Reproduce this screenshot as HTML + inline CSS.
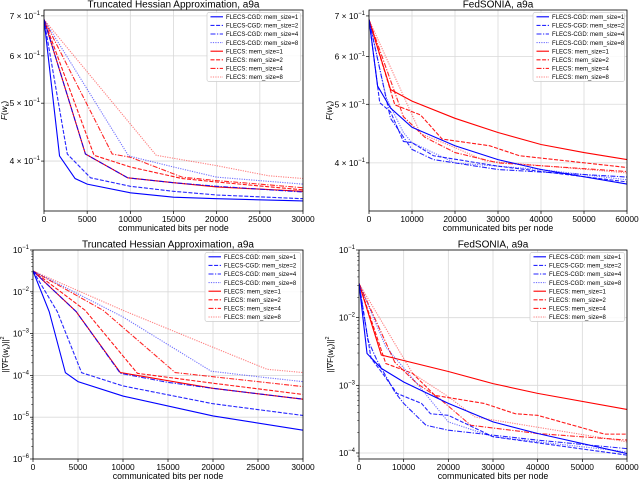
<!DOCTYPE html>
<html><head><meta charset="utf-8"><style>
body{margin:0;background:#fff}
svg{display:block;font-family:"Liberation Sans","DejaVu Sans",sans-serif}
</style></head><body>
<svg id="c" width="640" height="480" viewBox="0 0 640 480"></svg>
<script>
const legendLabels=["FLECS-CGD: mem_size=1","FLECS-CGD: mem_size=2","FLECS-CGD: mem_size=4","FLECS-CGD: mem_size=8","FLECS: mem_size=1","FLECS: mem_size=2","FLECS: mem_size=4","FLECS: mem_size=8"];
// Panel 1: Truncated Hessian, F(w_k)
const p1X=[[0,1800,3600,5000,10000,15000,20000,30000],[0,2700,5400,10000,15000,20000,30000],[0,4800,9700,15000,20000,30000],[0,9800,15000,20000,30000],[0,4800,9700,15000,20000,30000],[0,5800,10000,16000,20000,30000],[0,7900,10000,16000,20000,30000],[0,13000,20000,26000,30000]];
const p1Y=[[0.69,0.408,0.374,0.366,0.354,0.348,0.346,0.343],[0.69,0.411,0.375,0.363,0.356,0.351,0.346],[0.69,0.411,0.375,0.368,0.363,0.355],[0.69,0.408,0.391,0.376,0.366],[0.69,0.411,0.375,0.368,0.362,0.356],[0.69,0.409,0.391,0.374,0.369,0.358],[0.69,0.411,0.406,0.376,0.371,0.361],[0.69,0.409,0.393,0.378,0.374]];
// Panel 2: FedSONIA, F(w_k)
const p2X=[[0,2000,5000,10000,20000,30000,40000,60000],[0,2500,5000,8000,10000,15000,30000,60000],[0,5000,10000,15000,30000,60000],[0,4000,8000,10000,20000,40000,60000],[0,5000,10000,20000,30000,40000,50000,60000],[0,6000,12000,17000,28000,35000,60000],[0,8000,13000,20000,30000,60000],[0,12000,20000,27000,60000]];
const p2Y=[[0.69,0.536,0.493,0.458,0.427,0.405,0.39,0.369],[0.69,0.503,0.486,0.434,0.432,0.411,0.395,0.372],[0.69,0.474,0.421,0.405,0.39,0.379],[0.69,0.513,0.449,0.432,0.40,0.39,0.375],[0.69,0.529,0.506,0.474,0.449,0.429,0.416,0.405],[0.69,0.499,0.48,0.438,0.427,0.411,0.393],[0.69,0.477,0.441,0.416,0.40,0.387],[0.69,0.447,0.424,0.403,0.385]];
// Panel 3: Truncated Hessian, gradient norm
const p3X=[[0,1800,3600,5000,10000,20000,30000],[0,2700,5400,10000,20000,30000],[0,4800,9700,15000,20000,30000],[0,10000,19800,25000,30000],[0,4800,9700,20000,30000],[0,5800,11600,20000,30000],[0,7800,15800,20000,30000],[0,10000,19800,26000,30000]];
const p3Y=[[0.0315,3.35e-3,1.16e-4,7.1e-5,3.2e-5,1.07e-5,4.9e-6],[0.0315,3.35e-3,1.16e-4,5.6e-5,2.1e-5,1.1e-5],[0.0315,3.35e-3,1.12e-4,6.8e-5,4.9e-5,2.7e-5],[0.0315,2.5e-3,1.26e-4,9.3e-5,7.1e-5],[0.0315,3.35e-3,1.17e-4,4.9e-5,2.7e-5],[0.0315,3.6e-3,1.12e-4,6.5e-5,3.5e-5],[0.0315,3.6e-3,1.17e-4,9.3e-5,5.4e-5],[0.0315,3.6e-3,4.9e-4,1.4e-4,1.17e-4]];
// Panel 4: FedSONIA, gradient norm
const p4X=[[0,1800,5000,10000,20000,30000,40000,60000],[0,2700,5000,8500,14000,16000,20000,30000,60000],[0,2000,4000,8000,10000,15000,20000,40000,60000],[0,6000,13000,20000,30000,60000],[0,5000,20000,30000,40000,60000],[0,6000,12000,17000,28000,35000,40000,55000,60000],[0,8000,13000,18000,25000,40000,60000],[0,12000,20000,26000,60000]];
const p4Y=[[0.032,2.95e-3,1.78e-3,1.12e-3,5.4e-4,2.88e-4,1.94e-4,9.8e-5],[0.032,2.5e-3,1.59e-3,7.6e-4,5.4e-4,3.8e-4,3.6e-4,1.74e-4,9.3e-5],[0.032,4.66e-3,2.36e-3,8.0e-4,5.4e-4,2.57e-4,2.17e-4,1.55e-4,1.16e-4],[0.032,3.7e-3,1.06e-3,2.88e-4,1.74e-4,1.04e-4],[0.032,2.8e-3,1.6e-3,1.06e-3,7.6e-4,4.4e-4],[0.032,2.1e-3,1.5e-3,7.1e-4,5.4e-4,3.8e-4,3.6e-4,1.9e-4,1.9e-4],[0.032,2.2e-3,1.06e-3,6.4e-4,2.57e-4,1.94e-4,1.55e-4],[0.032,1.5e-3,6.8e-4,3.4e-4,1.46e-4]];
const p1Ticks=[0,5000,10000,15000,20000,25000,30000];
const p2Ticks=[0,10000,20000,30000,40000,50000,60000];

const NS="http://www.w3.org/2000/svg";
const svg=document.getElementById('c');
function mk(tag,attrs,parent,text){const e=document.createElementNS(NS,tag);for(const k in attrs)e.setAttribute(k,attrs[k]);if(text!==undefined)e.textContent=text;(parent||svg).appendChild(e);return e;}
const colors=["#0000ff","#0000ff","#0000ff","#0000ff","#ff0000","#ff0000","#ff0000","#ff0000"];
const dashes=["","4,1.6","5,1.5,1.2,1.5","1.2,1.2","","4,1.6","5,1.5,1.2,1.5","1.2,1.2"];
const opac=[1,0.85,0.85,0.55,1,0.9,0.85,0.5];

function panel(cfg){
  const g=mk('g',{});
  
  
  const {L,R,T,B,xmax,ymin,ymax}=cfg;
  const lx=v=>L+(v/xmax)*(R-L);
  const ly=v=>B-(Math.log10(v)-Math.log10(ymin))/(Math.log10(ymax)-Math.log10(ymin))*(B-T);
  const grid=mk('g',{},g);
  cfg.xticks.forEach(t=>{
    const x=lx(t);
    mk('line',{x1:x,x2:x,y1:T,y2:B,stroke:'#d9d9d9','stroke-width':0.8},grid);
    mk('line',{x1:x,x2:x,y1:B,y2:B+3,stroke:'#000','stroke-width':0.7},g);
    const tl=mk('text',{x:x,y:B+11,'font-size':8.4,'text-anchor':'middle'},g,String(t));
    
  });
  cfg.yticks.forEach(t=>{
    const y=ly(t.v);
    mk('line',{x1:L,x2:R,y1:y,y2:y,stroke:'#d9d9d9','stroke-width':0.8},grid);
    mk('line',{x1:L-3,x2:L,y1:y,y2:y,stroke:'#000','stroke-width':0.7},g);
    const tl=mk('text',{x:L-4,y:y+3,'font-size':8.4,'text-anchor':'end'},g);
    
    mk('tspan',{},tl,t.b);
    mk('tspan',{dy:-4,'font-size':6},tl,t.e);
  });
  (cfg.minor||[]).forEach(v=>{const y=ly(v);if(y>T&&y<B)mk('line',{x1:L-1.8,x2:L,y1:y,y2:y,stroke:'#000','stroke-width':0.5},g);});
  const clipId='clip'+cfg.name;
  const cp=mk('clipPath',{id:clipId},g);mk('rect',{x:L,y:T,width:R-L,height:B-T},cp);
  const sg=mk('g',{'clip-path':`url(#${clipId})`},g);
  for(let i=7;i>=0;i--){
    const xs=cfg.X[i],ys=cfg.Y[i];
    const pts=xs.map((x,j)=>lx(x).toFixed(2)+','+ly(ys[j]).toFixed(2)).join(' ');
    const pl=mk('polyline',{points:pts,fill:'none',stroke:colors[i],'stroke-width':1.1,'stroke-dasharray':dashes[i],'stroke-opacity':opac[i]},sg);
    
    
  }
  mk('rect',{x:L,y:T,width:R-L,height:B-T,fill:'none',stroke:'#000','stroke-width':0.8},g);
  const ti=mk('text',{x:(L+R)/2,y:T-2.5,'font-size':10,'text-anchor':'middle'},g,cfg.title);
  
  const xl=mk('text',{x:(L+R)/2,y:B+20,'font-size':8.8,'text-anchor':'middle'},g,'communicated bits per node');
  
  const yl=mk('text',{x:0,y:0,'font-size':8.2,'text-anchor':'middle',transform:`translate(${cfg.ylx},${(T+B)/2}) rotate(-90)`},g);
  
  if(cfg.grad){mk('tspan',{},yl,'||∇F(');mk('tspan',{'font-style':'italic'},yl,'w');mk('tspan',{dy:2,'font-size':5.5},yl,'k');mk('tspan',{dy:-2},yl,')||');mk('tspan',{dy:-4,'font-size':5.5},yl,'2');}
  else{mk('tspan',{'font-style':'italic'},yl,'F');mk('tspan',{},yl,'(');mk('tspan',{'font-style':'italic'},yl,'w');mk('tspan',{dy:2,'font-size':5.5},yl,'k');mk('tspan',{dy:-2},yl,')');}
  const lg=mk('g',{},g);
  mk('rect',{x:cfg.legX,y:T+2.5,width:R-2.5-cfg.legX,height:69,fill:'#fff','fill-opacity':0.85,stroke:'#ccc','stroke-width':0.7,rx:2},lg);
  legendLabels.forEach((lab,i)=>{
    const y=T+6.8+i*8.6;
    const e=mk('g',{},lg);
    mk('line',{x1:cfg.legX+3.5,x2:cfg.legX+16,y1:y,y2:y,stroke:colors[i],'stroke-width':1.1,'stroke-dasharray':dashes[i],'stroke-opacity':opac[i]},e);
    mk('text',{x:cfg.legX+19,y:y+2.2,'font-size':6},e,lab);
  });
}
const topTicks=[{v:0.7,b:'7 × 10',e:'−1'},{v:0.6,b:'6 × 10',e:'−1'},{v:0.5,b:'5 × 10',e:'−1'},{v:0.4,b:'4 × 10',e:'−1'}];
const decTicks=[-1,-2,-3,-4,-5,-6].map(e=>({v:Math.pow(10,e),b:'10',e:'−'+(-e)}));
const minors=[];for(let d=-7;d<0;d++)for(let m=2;m<10;m++)minors.push(m*Math.pow(10,d));
panel({name:'panel-top-left',title:'Truncated Hessian Approximation, a9a',L:44,R:303,T:10,B:211,xmax:30000,ymin:0.330,ymax:0.716,xticks:p1Ticks,yticks:topTicks,X:p1X,Y:p1Y,ylx:7,legX:207});
panel({name:'panel-top-right',title:'FedSONIA, a9a',L:369,R:627,T:10,B:211,xmax:60000,ymin:0.333,ymax:0.716,xticks:p2Ticks,yticks:topTicks,X:p2X,Y:p2Y,ylx:332,legX:533});
panel({name:'panel-bottom-left',title:'Truncated Hessian Approximation, a9a',L:33,R:303,T:250,B:459,xmax:30000,ymin:1e-6,ymax:1e-1,xticks:p1Ticks,yticks:decTicks,minor:minors,X:p3X,Y:p3Y,ylx:8,grad:true,legX:205});
panel({name:'panel-bottom-right',title:'FedSONIA, a9a',L:359,R:627,T:250,B:459,xmax:60000,ymin:8.15e-5,ymax:1e-1,xticks:p2Ticks,yticks:decTicks.filter(t=>t.v>=1e-4),minor:minors,X:p4X,Y:p4Y,ylx:333,grad:true,legX:530});
</script>
</body></html>
